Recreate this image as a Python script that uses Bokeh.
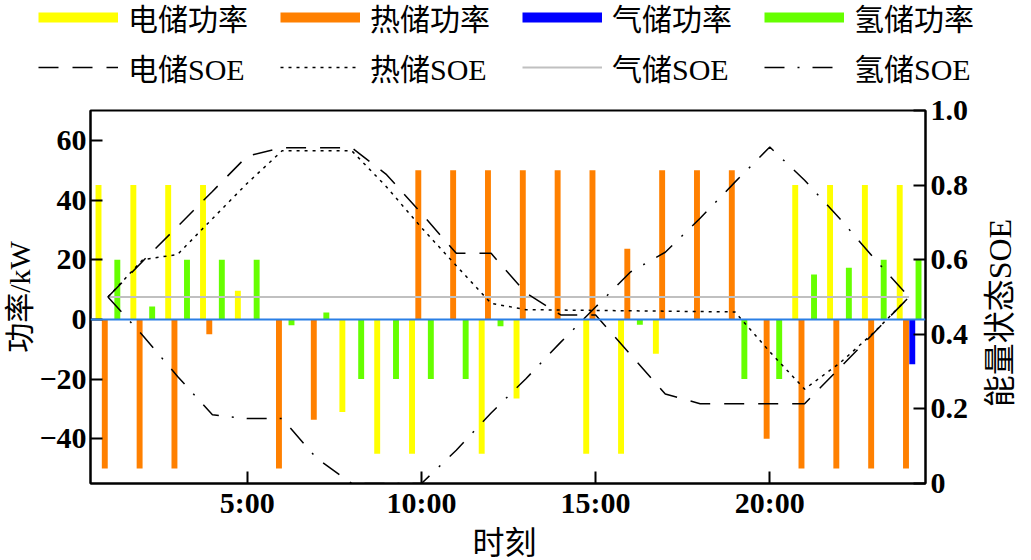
from bokeh.plotting import figure
from bokeh.models import (Range1d, LinearAxis, FixedTicker, Span, Legend, LegendItem,
                          ColumnDataSource)
from bokeh.layouts import column, row
from bokeh.embed import file_html
from bokeh.resources import INLINE
from bokeh.transform import dodge
from bokeh.core.properties import value
import math

# ---------------- data ----------------
hours = list(range(1, 25))
elec_power = [45, 45, 45, 45, 9.6, 0, 0, -31, -45, -45, 0, -45, -26.5, 0, -45, -45, -11.5, 0, 0, 0, 45, 45, 45, 45]
heat_power = [-50, -50, -50, -5, 0, -50, -33.6, 0, 0, 50, 50, 50, 50, 50, 50, 23.7, 50, 50, 50, -40, -50, -50, -50, -50]
gas_power = [0, 0, 0, 0, 0, 0, 0, 0, 0, 0, 0, 0, 0, 0, 0, 0, 0, 0, 0, 0, 0, 0, 0, -15]
h2_power = [20, 4.3, 20, 20, 20, -2, 2.3, -20, -20, -20, -20, -2.3, 0, 0, 0, -1.8, 0, 0, -20, -20, 15, 17.3, 20, 20]

elec_soe = [0.5, 0.596, 0.689, 0.783, 0.878, 0.9, 0.9, 0.9, 0.828, 0.724, 0.617, 0.617, 0.511, 0.452, 0.452,
            0.346, 0.24, 0.214, 0.214, 0.214, 0.214, 0.309, 0.405, 0.5]
heat_soe = [0.5, 0.6, 0.614, 0.71, 0.805, 0.892, 0.892, 0.892, 0.795, 0.686, 0.584, 0.483, 0.466, 0.465, 0.464,
            0.463, 0.462, 0.461, 0.46, 0.353, 0.253, 0.322, 0.406, 0.5]
gas_soe = [0.5, 0.5, 0.5, 0.5, 0.5, 0.5, 0.5, 0.5, 0.5, 0.5, 0.5, 0.5, 0.5, 0.5, 0.5, 0.5, 0.5, 0.5, 0.5, 0.5,
           0.5, 0.5, 0.5, 0.5]
h2_soe = [0.5, 0.397, 0.287, 0.184, 0.174, 0.174, 0.067, 0.0, 0.0, 0.0, 0.089, 0.189, 0.281, 0.379, 0.473,
          0.567, 0.62, 0.711, 0.808, 0.902, 0.813, 0.711, 0.603, 0.5]

x_ticks = [5, 10, 15, 20]
x_tick_labels = ["5:00", "10:00", "15:00", "20:00"]
left_ticks = [-40, -20, 0, 20, 40, 60]
left_tick_labels = ["\u221240", "\u221220", "0", "20", "40", "60"]
right_ticks = [0, 0.2, 0.4, 0.6, 0.8, 1.0]
right_tick_labels = ["0", "0.2", "0.4", "0.6", "0.8", "1.0"]

names_power = ["电储功率", "热储功率", "气储功率", "氢储功率"]
names_soe = ["电储SOE", "热储SOE", "气储SOE", "氢储SOE"]
x_title = "时刻"
y_title = "功率/kW"
y2_title = "能量状态SOE"

# ---------------- styles ----------------
C_ELEC = "#ffff00"
C_HEAT = "#ff8000"
C_GAS = "#0000ff"
C_H2 = "#66ff00"
C_GRAY = "#c0c0c0"
FONT = "Liberation Serif, Noto Sans CJK SC"
DASH_E = "20 14"
DASH_T = "3 5"
DASH_H = "20 13 2 13"
NAN = float("nan")


def no_align(fig):
    try:
        fig.frame_align = False
    except Exception:
        pass


def blank_strip(w, h):
    f = figure(width=w, height=h, x_range=Range1d(0, 1), y_range=Range1d(0, 1),
               x_axis_type=None, y_axis_type=None,
               output_backend="svg", toolbar_location=None, min_border=0)
    f.grid.visible = False
    f.outline_line_color = None
    f.background_fill_color = "white"
    f.border_fill_color = "white"
    no_align(f)
    return f


src = ColumnDataSource(dict(h=hours, ep=elec_power, hp=heat_power, gp=gas_power, h2p=h2_power,
                            es=elec_soe, hs=heat_soe, gs=gas_soe, h2s=h2_soe))

# ---------------- main plot ----------------
p = figure(width=976, height=433, x_range=Range1d(0.5, 24.47), y_range=Range1d(-55, 70),
           output_backend="svg", toolbar_location=None,
           min_border_left=83, min_border_right=51, min_border_top=20, min_border_bottom=40)
no_align(p)
p.extra_y_ranges = {"soe": Range1d(0, 1)}
p.xgrid.visible = False
p.ygrid.visible = False
p.outline_line_color = "black"
p.outline_line_width = 2
p.background_fill_color = "white"
p.border_fill_color = "white"

bw = 0.17
p.vbar(x=dodge("h", -0.27, range=p.x_range), top="ep", bottom=0, width=bw, source=src,
       fill_color=C_ELEC, line_color=None)
p.vbar(x=dodge("h", -0.09, range=p.x_range), top="hp", bottom=0, width=bw, source=src,
       fill_color=C_HEAT, line_color=None)
p.vbar(x=dodge("h", 0.09, range=p.x_range), top="gp", bottom=0, width=bw, source=src,
       fill_color=C_GAS, line_color=None)
p.vbar(x=dodge("h", 0.27, range=p.x_range), top="h2p", bottom=0, width=bw, source=src,
       fill_color=C_H2, line_color=None)

p.add_layout(Span(location=0, dimension="width", line_color="#2a7fe6", line_width=2))

p.line("h", "gs", source=src, y_range_name="soe", line_color=C_GRAY, line_width=2)
p.line("h", "es", source=src, y_range_name="soe", line_color="black", line_width=1.5, line_dash=DASH_E)
p.line("h", "hs", source=src, y_range_name="soe", line_color="black", line_width=1.5, line_dash=DASH_T)
p.line("h", "h2s", source=src, y_range_name="soe", line_color="black", line_width=1.5, line_dash=DASH_H)


def style_axis(ax):
    ax.major_tick_in = 12
    ax.major_tick_out = 0
    ax.minor_tick_in = 0
    ax.minor_tick_out = 0
    ax.axis_line_width = 2
    ax.major_tick_line_width = 2
    ax.major_label_text_font = FONT
    ax.major_label_text_font_style = "bold"
    ax.major_label_text_font_size = "30px"
    ax.major_label_text_color = "black"


xa = p.xaxis[0]
xa.ticker = FixedTicker(ticks=x_ticks)
xa.major_label_overrides = dict(zip(x_ticks, x_tick_labels))
style_axis(xa)
xa.major_label_standoff = 2

ya = p.yaxis[0]
ya.ticker = FixedTicker(ticks=left_ticks)
ya.major_label_overrides = dict(zip(left_ticks, left_tick_labels))
style_axis(ya)
ya.major_label_standoff = 4
ya.axis_label = y_title
ya.axis_label_text_font = FONT
ya.axis_label_text_font_style = "normal"
ya.axis_label_text_font_size = "30px"
ya.axis_label_text_color = "black"
ya.axis_label_standoff = 0

ra = LinearAxis(y_range_name="soe", ticker=FixedTicker(ticks=right_ticks))
ra.major_label_overrides = dict(zip(right_ticks, right_tick_labels))
style_axis(ra)
ra.major_label_standoff = 5
p.add_layout(ra, "right")

# ---------------- right title strip ----------------
rf = blank_strip(47, 433)
rf.text(x=[0.5], y=[0.486], text=[y2_title], angle=math.pi / 2,
        text_align="center", text_baseline="middle",
        text_font=value(FONT), text_font_size=value("32px"), text_color="black")

# ---------------- bottom title strip ----------------
bf = blank_strip(1023, 37)
bf.text(x=[0.4927], y=[0.486], text=[x_title],
        text_align="center", text_baseline="middle",
        text_font=value(FONT), text_font_size=value("32px"), text_color="black")

# ---------------- legend strip ----------------
lf = blank_strip(1023, 90)
lr = []
for c in [C_ELEC, C_HEAT, C_GAS, C_H2]:
    lr.append(lf.line(x=[NAN], y=[NAN], line_color=c, line_width=10))
lr.append(lf.line(x=[NAN], y=[NAN], line_color="black", line_width=1.5, line_dash=DASH_E))
lr.append(lf.line(x=[NAN], y=[NAN], line_color="black", line_width=1.5, line_dash=DASH_T))
lr.append(lf.line(x=[NAN], y=[NAN], line_color=C_GRAY, line_width=2))
lr.append(lf.line(x=[NAN], y=[NAN], line_color="black", line_width=1.5, line_dash=DASH_H))

items = [LegendItem(label=n, renderers=[r]) for n, r in zip(names_power + names_soe, lr)]
legend = Legend(items=items, orientation="horizontal", ncols=4, location=(38, 1),
                glyph_width=80, glyph_height=20, label_standoff=10, label_width=146,
                label_height=34, spacing=6, padding=0, margin=0,
                label_text_font=FONT, label_text_font_size="30px", label_text_color="black",
                border_line_color=None, background_fill_alpha=0)
lf.add_layout(legend)

layout = column(lf, row(p, rf, spacing=0), bf, spacing=0)
open("out.html", "w").write(file_html(layout, INLINE))
